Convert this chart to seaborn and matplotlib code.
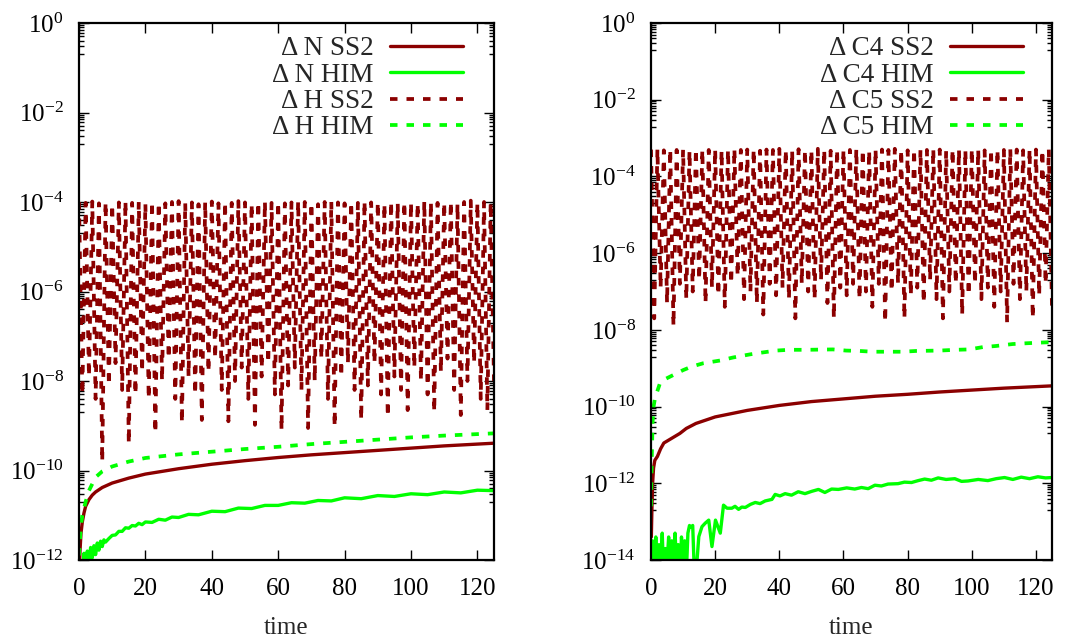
import numpy as np
import matplotlib
matplotlib.use("Agg")
import matplotlib.pyplot as plt
import matplotlib.ticker as mticker
import seaborn as sns

# ---------------- data (log10 of the errors) ----------------
# oscillating SS2 energy-type errors, sampled at t = 0,1,...,125
ss2_time = np.arange(0, 126)

h_ss2_peak_log = [-4.00, -4.02, -3.99, -4.03, -4.00, -4.05, -4.01, -3.98, -4.02, -4.00,
                  -4.04, -3.99, -4.01, -4.03, -4.00, -3.98, -4.02, -4.01, -4.05, -4.00,
                  -3.99, -4.03, -4.00, -4.02, -3.98, -4.01, -4.04, -4.00, -3.99, -4.02,
                  -4.00, -4.03, -4.01, -3.98, -4.00, -4.02, -4.05, -4.00, -3.99, -4.01,
                  -4.03, -4.00, -4.02, -3.98, -4.01, -4.00, -4.04, -3.99, -4.02, -4.00,
                  -4.01, -4.03, -3.98, -4.00, -4.02, -4.01, -3.99, -4.04, -4.00, -3.97,
                  -4.02, -4.00, -4.01]
h_ss2_trough_log = [-8.3, -7.9, -8.4, -9.8, -8.1, -7.6, -8.2, -9.4, -8.3, -7.8,
                    -8.4, -9.16, -8.0, -7.5, -8.4, -8.94, -7.9, -8.3, -8.87, -7.8,
                    -7.5, -8.2, -8.9, -8.0, -7.7, -8.4, -8.98, -7.9, -7.6, -8.3,
                    -9.1, -8.1, -7.7, -8.2, -9.05, -8.0, -7.5, -8.4, -9.02, -7.9,
                    -7.6, -8.2, -8.87, -8.1, -7.6, -8.3, -8.8, -7.9, -8.2, -8.65,
                    -7.7, -8.0, -8.3, -8.69, -7.8, -7.5, -8.2, -8.76, -8.0, -7.6,
                    -8.4, -8.65, -8.0]

c5_ss2_peak_log = [-3.30, -3.28, -3.32, -3.29, -3.31, -3.30, -3.33, -3.28, -3.30, -3.31,
                   -3.29, -3.32, -3.30, -3.28, -3.31, -3.30, -3.29, -3.33, -3.30, -3.31,
                   -3.28, -3.30, -3.32, -3.29, -3.30, -3.31, -3.28, -3.30, -3.33, -3.29,
                   -3.30, -3.31, -3.28, -3.30, -3.32, -3.29, -3.30, -3.31, -3.28, -3.30,
                   -3.32, -3.29, -3.30, -3.31, -3.28, -3.30, -3.33, -3.29, -3.30, -3.31,
                   -3.28, -3.30, -3.32, -3.29, -3.30, -3.31, -3.28, -3.30, -3.32, -3.29,
                   -3.30, -3.31, -3.29]
c5_ss2_trough_log = [-7.7, -6.9, -7.3, -7.9, -6.8, -7.2, -7.0, -6.7, -7.3, -6.9,
                     -7.1, -7.4, -6.8, -6.6, -7.2, -7.0, -7.3, -7.6, -6.8, -7.1,
                     -6.9, -7.2, -7.7, -6.8, -7.0, -7.2, -6.7, -7.3, -7.7, -6.9,
                     -7.1, -6.8, -7.2, -7.0, -7.4, -6.8, -7.8, -7.0, -6.8, -7.7,
                     -7.1, -6.9, -7.3, -6.7, -7.2, -7.7, -7.0, -6.8, -7.6, -7.1,
                     -6.8, -7.2, -6.9, -7.4, -7.0, -7.8, -6.8, -7.2, -7.0, -7.7,
                     -7.1, -6.8, -7.4]

# left panel smooth curves
n_ss2_t = [0, 0.3, 0.6, 1, 1.5, 2, 3, 4, 5, 7, 10, 15, 20, 30, 40, 50, 60, 70, 80, 90, 100, 110, 125]
n_ss2_log = [-12.5, -11.8, -11.4, -11.15, -10.95, -10.8, -10.65, -10.55, -10.48, -10.38, -10.28,
             -10.17, -10.08, -9.96, -9.86, -9.78, -9.71, -9.65, -9.6, -9.55, -9.5, -9.45, -9.39]

h_him_t = [0, 0.5, 1, 2, 3, 5, 7, 10, 15, 20, 30, 40, 50, 60, 70, 80, 90, 100, 110, 125]
h_him_log = [-11.9, -11.3, -11.0, -10.7, -10.45, -10.15, -10.02, -9.91, -9.8, -9.72, -9.64,
             -9.58, -9.52, -9.47, -9.41, -9.36, -9.31, -9.26, -9.22, -9.17]

n_him_t = [0, 0.5, 1, 1.5, 2, 2.5, 3, 3.5, 4, 4.5, 5, 5.5, 6, 6.5, 7, 7.5, 8,
           9, 10, 11, 12, 13, 14, 15, 16, 17, 18, 19, 20,
           22, 24, 26, 28, 30, 33, 36, 40, 44, 48, 52, 56, 60, 64, 68, 72, 76, 80,
           85, 90, 95, 100, 105, 110, 115, 120, 125]
n_him_log = [-12.4, -12.2, -12.3, -11.85, -12.1, -11.8, -12.05, -11.72, -11.95, -11.68, -11.88,
             -11.62, -11.78, -11.58, -11.7, -11.55, -11.6,
             -11.52, -11.45, -11.44, -11.36, -11.36, -11.28, -11.29, -11.23, -11.24, -11.18, -11.21, -11.15,
             -11.16, -11.09, -11.11, -11.04, -11.05, -10.98, -10.99, -10.91, -10.92, -10.84, -10.85,
             -10.78, -10.78, -10.72, -10.73, -10.67, -10.68, -10.61,
             -10.63, -10.56, -10.58, -10.52, -10.54, -10.48, -10.5, -10.44, -10.45]

# right panel smooth curves
c4_ss2_t = [0.1, 0.3, 0.5, 0.8, 1.2, 2, 3, 4, 6, 9, 11, 14, 20, 30, 40, 50, 60, 70, 80, 90, 100, 110, 125]
c4_ss2_log = [-13.4, -12.6, -12.0, -11.6, -11.4, -11.3, -11.1, -10.95, -10.85, -10.7, -10.57,
              -10.44, -10.27, -10.1, -9.97, -9.87, -9.8, -9.73, -9.68, -9.62, -9.57, -9.52, -9.46]

c5_him_t = [0, 0.2, 0.5, 0.8, 1.25, 2.8, 4.5, 6.9, 10, 12.6, 16.3, 21.5, 25.6, 30.8, 33.9,
            39, 43, 48.4, 56.7, 60.8, 65, 69, 74.3, 78.5, 82.6, 89.9, 95, 99.2, 103.4, 107.6,
            112.7, 116.9, 122, 125]
c5_him_log = [-12.6, -11.5, -10.4, -10.0, -9.78, -9.39, -9.28, -9.18, -9.05, -8.96, -8.87, -8.8,
              -8.72, -8.64, -8.6, -8.54, -8.52, -8.52, -8.51, -8.54, -8.55, -8.57, -8.57, -8.57,
              -8.55, -8.54, -8.52, -8.51, -8.45, -8.42, -8.37, -8.35, -8.33, -8.32]

c4_him_t = [0, 0.5, 1, 1.5, 2, 2.5, 3, 3.5, 4, 4.5, 5, 5.5, 6, 6.5, 7, 7.5, 8, 8.5, 9, 9.5,
            10, 10.5, 11, 11.5, 12, 12.5, 13, 13.5, 14,
            14.9, 15.9, 16.9, 18, 19, 20.1, 21.6, 22.6, 23.7, 25.2,
            26.2, 27.3, 28.3, 29.4, 31, 32.5, 34, 35.6, 37.7, 38.7, 40.2, 41.8, 43.8, 45.9, 48, 50.1,
            52.2, 54.2, 56.3, 58.4, 61, 63.5, 65.6, 67.7, 69.8, 71.8, 73.9, 77, 79, 81.2, 83.3,
            85.3, 87.4, 89.5, 92, 94.7, 96.8, 98.8, 102, 105, 107.6, 110.2, 112.8, 115.4, 118,
            120.6, 123, 125]
c4_him_log = [-14.5, -13.5, -14.3, -13.4, -14.4, -13.6, -14.2, -13.3, -14.5, -13.7,
              -14.1, -13.4, -14.4, -13.5, -14.3, -13.3, -14.2, -13.6, -14.5, -13.4,
              -14.1, -13.5, -14.4, -13.3, -13.1, -13.15, -13.1, -14.3, -14.4,
              -13.39, -13.13, -13.04, -12.96, -13.65, -12.96, -13.3, -12.57, -12.65, -12.65,
              -12.6, -12.68, -12.62, -12.63, -12.55, -12.5, -12.53, -12.46, -12.42, -12.29, -12.33,
              -12.27, -12.31, -12.22, -12.27, -12.21, -12.16, -12.24, -12.15, -12.16, -12.12, -12.15,
              -12.11, -12.14, -12.05, -12.07, -12.02, -12.01, -11.97, -11.98, -11.93, -11.89, -11.92,
              -11.86, -11.9, -11.88, -11.95, -11.94, -11.9, -11.93, -11.88, -11.85, -11.9, -11.84,
              -11.88, -11.83, -11.86, -11.85]

x_ticks = [0, 20, 40, 60, 80, 100, 120]
left_legend = ["\u0394 N SS2", "\u0394 N HIM", "\u0394 H SS2", "\u0394 H HIM"]
right_legend = ["\u0394 C4 SS2", "\u0394 C4 HIM", "\u0394 C5 SS2", "\u0394 C5 HIM"]


def interleave(peaks, troughs):
    out = []
    for p, q in zip(peaks, troughs):
        out.extend([p, q])
    return np.array(out)


# ---------------- style ----------------
sns.set_theme(style="ticks")
plt.rcParams["font.family"] = ["Liberation Serif", "DejaVu Serif"]
plt.rcParams["mathtext.fontset"] = "custom"
plt.rcParams["mathtext.rm"] = "Liberation Serif"
plt.rcParams["mathtext.it"] = "Liberation Serif:italic"
plt.rcParams["mathtext.bf"] = "Liberation Serif:bold"

FS = 18
LEG_FS = 19.5
RED = "#8b0000"
GREEN = "#00ff00"
LW = 2.4
LW_D = 2.7
DASH = (0, (2.0, 2.4))

fig = plt.figure(figsize=(10.81, 6.39), dpi=100)
axL = fig.add_axes([79 / 1081, 1 - 560 / 639, 415 / 1081, 537 / 639])
axR = fig.add_axes([651 / 1081, 1 - 560 / 639, 401 / 1081, 537 / 639])


def draw(ax, solid_ss2, solid_him, dash_ss2, dash_him, labels, ymin_exp, leg_x):
    sns.lineplot(x=solid_ss2[0], y=10.0 ** np.array(solid_ss2[1]), ax=ax, color=RED,
                 lw=LW, label=labels[0], sort=False, estimator=None)
    sns.lineplot(x=solid_him[0], y=10.0 ** np.array(solid_him[1]), ax=ax, color=GREEN,
                 lw=LW, label=labels[1], sort=False, estimator=None)
    sns.lineplot(x=dash_ss2[0], y=10.0 ** np.array(dash_ss2[1]), ax=ax, color=RED,
                 lw=LW_D, linestyle=DASH, label=labels[2], sort=False, estimator=None)
    sns.lineplot(x=dash_him[0], y=10.0 ** np.array(dash_him[1]), ax=ax, color=GREEN,
                 lw=LW_D, linestyle=DASH, label=labels[3], sort=False, estimator=None)
    ax.set_yscale("log")
    ax.set_xlim(0, 125)
    ax.set_ylim(10.0 ** ymin_exp, 1.0)
    major = [10.0 ** e for e in range(ymin_exp, 1, 2)]
    minor = [10.0 ** e * k / 10 for e in range(ymin_exp + 2, 1, 2) for k in range(2, 10)]
    ax.yaxis.set_major_locator(mticker.FixedLocator(major))
    ax.yaxis.set_minor_locator(mticker.FixedLocator(minor))
    ax.yaxis.set_major_formatter(mticker.FuncFormatter(
        lambda v, p: r"$10^{%d}$" % int(round(np.log10(v)))))
    ax.xaxis.set_major_locator(mticker.FixedLocator(x_ticks))
    ax.xaxis.set_minor_locator(mticker.NullLocator())
    ax.tick_params(which="both", direction="in", top=True, right=True, labelsize=FS,
                   color="black", labelcolor="black")
    ax.tick_params(which="major", length=7.5, width=1.0)
    ax.tick_params(which="minor", length=3.5, width=1.0)
    ax.tick_params(axis="x", pad=13)
    ax.tick_params(axis="y", pad=11)
    for s in ax.spines.values():
        s.set_linewidth(1.6)
        s.set_color("black")
    ax.set_xlabel("time", fontsize=FS, labelpad=12)
    ax.set_ylabel("")
    ax.grid(False)
    ax.legend(loc="upper right", bbox_to_anchor=(leg_x, 0.975), frameon=False,
              markerfirst=False, fontsize=LEG_FS, handlelength=2.7, handletextpad=0.6,
              labelspacing=0.05, borderpad=0.0, borderaxespad=0.0)


draw(axL, (n_ss2_t, n_ss2_log), (n_him_t, n_him_log),
     (ss2_time, interleave(h_ss2_peak_log, h_ss2_trough_log)), (h_him_t, h_him_log),
     left_legend, -12, 0.925)
draw(axR, (c4_ss2_t, c4_ss2_log), (c4_him_t, c4_him_log),
     (ss2_time, interleave(c5_ss2_peak_log, c5_ss2_trough_log)), (c5_him_t, c5_him_log),
     right_legend, -14, 0.928)

fig.savefig("out.png", dpi=100)
